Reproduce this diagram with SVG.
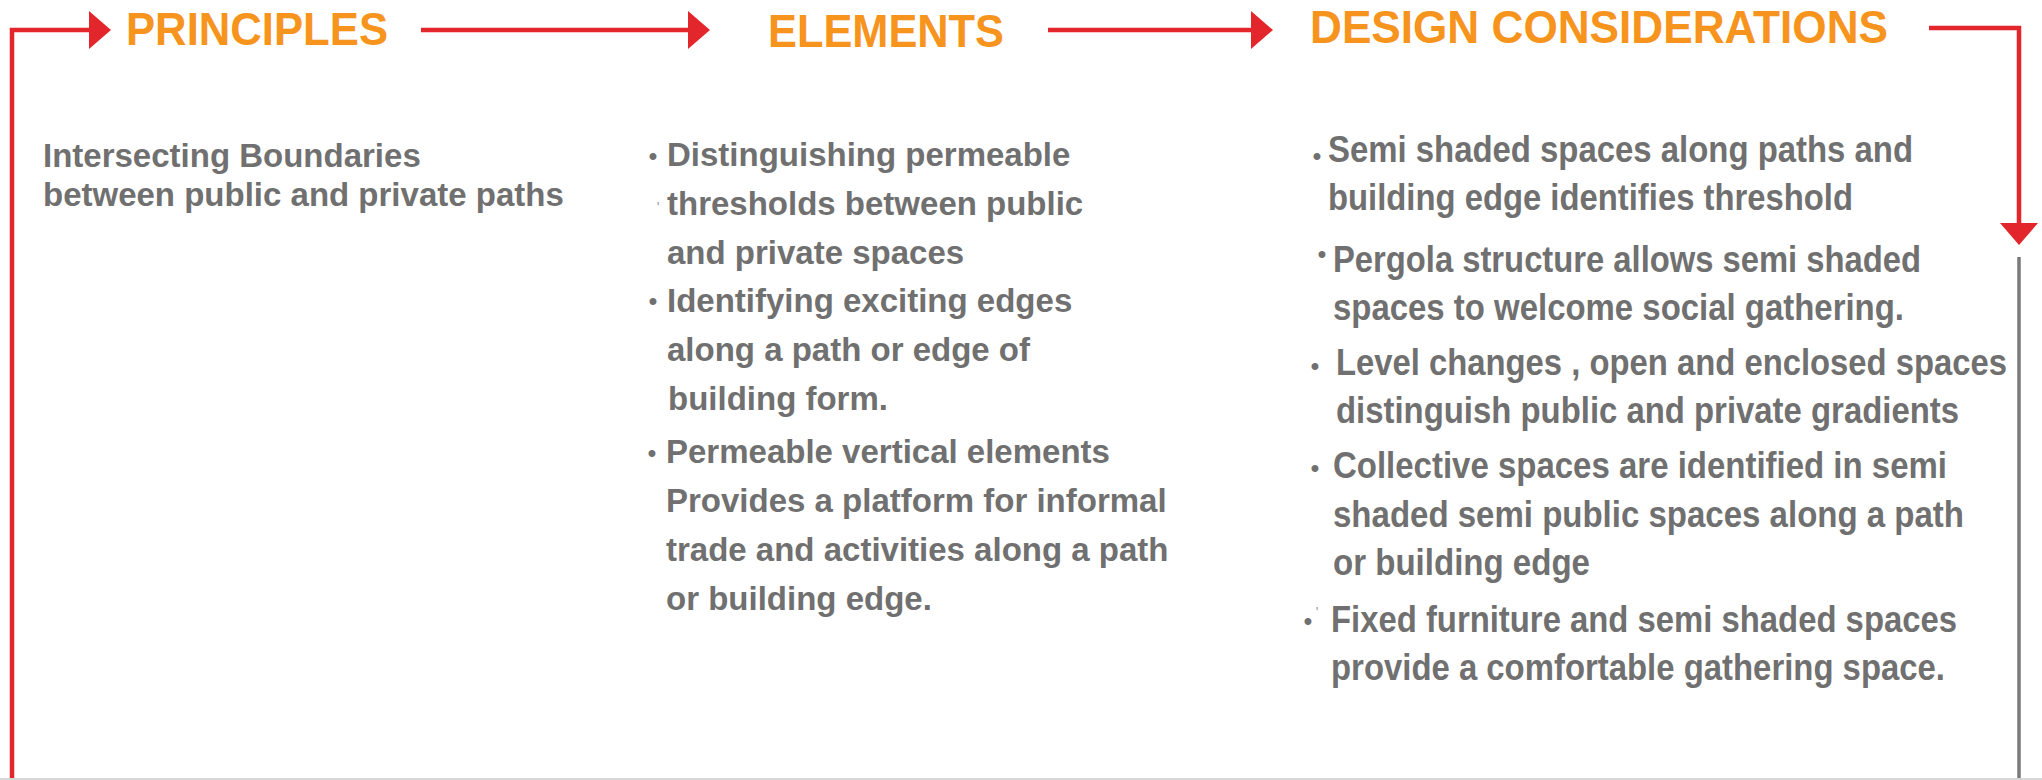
<svg xmlns="http://www.w3.org/2000/svg" width="2042" height="780" viewBox="0 0 2042 780">
  <style>
    .hdr { font-family: "Liberation Sans", Arial, sans-serif; font-weight: bold; font-size: 46px; fill: #F7941E; }
    .body { font-family: "Liberation Sans", Arial, sans-serif; font-weight: bold; font-size: 33px; fill: #707070; }
    .cond { font-size: 36px; }
    .bul { font-family: "Liberation Sans", Arial, sans-serif; font-weight: bold; font-size: 24px; fill: #707070; text-anchor: middle; }
    .tick { font-family: "Liberation Sans", Arial, sans-serif; font-size: 14px; fill: #9a9a9a; text-anchor: middle; }
    .red { fill: none; stroke: #E3262B; stroke-width: 4.5; }
    .grey { fill: none; stroke: #7a7a7a; stroke-width: 3.5; }
    .head { fill: #E3262B; }
  </style>
  <rect x="0" y="0" width="2042" height="780" fill="#ffffff"/>

  <g id="connectors">
    <path class="red" d="M12 780 V30 H92"/>
    <polygon class="head" points="89,11 111,30 89,49"/>
    <path class="red" d="M421 30 H691"/>
    <polygon class="head" points="688,11 710,30 688,49"/>
    <path class="red" d="M1048 30 H1254"/>
    <polygon class="head" points="1251,11 1273,30 1251,49"/>
    <path class="red" d="M1929 28 H2019 V226"/>
    <polygon class="head" points="2000,223 2038,223 2019,245"/>
    <path class="grey" d="M2019 257 V780"/>
  </g>

  <g id="principles">
    <text class="hdr" x="126" y="45" textLength="262" lengthAdjust="spacingAndGlyphs">PRINCIPLES</text>
  </g>
  <g id="elements">
    <text class="hdr" x="768" y="47" textLength="236" lengthAdjust="spacingAndGlyphs">ELEMENTS</text>
  </g>
  <g id="design-considerations">
    <text class="hdr" x="1310" y="43" textLength="578" lengthAdjust="spacingAndGlyphs">DESIGN CONSIDERATIONS</text>
  </g>

  <g id="principles-text">
    <text class="body" x="43" y="167">Intersecting Boundaries</text>
    <text class="body" x="43" y="206">between public and private paths</text>
  </g>

  <g id="elements-text">
    <text class="bul" x="653" y="164">•</text>
    <text class="body" x="667" y="166">Distinguishing permeable</text>
    <text class="tick" x="658" y="212">'</text>
    <text class="body" x="667" y="215">thresholds between public</text>
    <text class="body" x="667" y="264">and private spaces</text>
    <text class="bul" x="653" y="309">•</text>
    <text class="body" x="667" y="312">Identifying exciting edges</text>
    <text class="body" x="667" y="361">along a path or edge of</text>
    <text class="body" x="668" y="410">building form.</text>
    <text class="bul" x="652" y="461">•</text>
    <text class="body" x="666" y="463">Permeable vertical elements</text>
    <text class="body" x="666" y="512">Provides a platform for informal</text>
    <text class="body" x="666" y="561">trade and activities along a path</text>
    <text class="body" x="666" y="610">or building edge.</text>
  </g>

  <g id="design-text">
    <text class="bul" x="1317" y="164">•</text>
    <text class="body cond" x="1328" y="162" textLength="585" lengthAdjust="spacingAndGlyphs">Semi shaded spaces along paths and</text>
    <text class="body cond" x="1328" y="210" textLength="525" lengthAdjust="spacingAndGlyphs">building edge identifies threshold</text>
    <text class="bul" x="1322" y="262">•</text>
    <text class="body cond" x="1333" y="272" textLength="588" lengthAdjust="spacingAndGlyphs">Pergola structure allows semi shaded</text>
    <text class="body cond" x="1333" y="320" textLength="571" lengthAdjust="spacingAndGlyphs">spaces to welcome social gathering.</text>
    <text class="bul" x="1315" y="374">•</text>
    <text class="body cond" x="1336" y="375" textLength="671" lengthAdjust="spacingAndGlyphs">Level changes , open and enclosed spaces</text>
    <text class="body cond" x="1336" y="423" textLength="623" lengthAdjust="spacingAndGlyphs">distinguish public and private gradients</text>
    <text class="bul" x="1315" y="476">•</text>
    <text class="body cond" x="1333" y="478" textLength="614" lengthAdjust="spacingAndGlyphs">Collective spaces are identified in semi</text>
    <text class="body cond" x="1333" y="527" textLength="631" lengthAdjust="spacingAndGlyphs">shaded semi public spaces along a path</text>
    <text class="body cond" x="1333" y="575" textLength="257" lengthAdjust="spacingAndGlyphs">or building edge</text>
    <text class="bul" x="1308" y="629">•</text>
    <text class="tick" x="1317" y="617">'</text>
    <text class="body cond" x="1331" y="632" textLength="626" lengthAdjust="spacingAndGlyphs">Fixed furniture and semi shaded spaces</text>
    <text class="body cond" x="1331" y="680" textLength="614" lengthAdjust="spacingAndGlyphs">provide a comfortable gathering space.</text>
  </g>

  <g id="bottom-edge">
    <line x1="0" y1="779" x2="2042" y2="779" stroke="#d6d6d6" stroke-width="2"/>
  </g>
</svg>
